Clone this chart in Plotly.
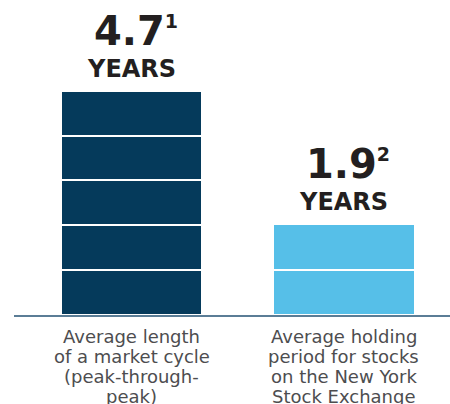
import plotly.graph_objects as go

# ---- data ----
categories = [
    "Average length of a market cycle (peak-through-peak)",
    "Average holding period for stocks on the New York Stock Exchange",
]
category_lines = [
    ["Average length", "of a market cycle", "(peak-through-", "peak)"],
    ["Average holding", "period for stocks", "on the New York", "Stock Exchange"],
]
values = [4.7, 1.9]
value_text = ["4.7", "1.9"]
footnotes = ["1", "2"]
unit_label = "YEARS"
# each bar is drawn as a stack of equal blocks
dark_blocks = [0.94, 0.94, 0.94, 0.94, 0.94]
light_blocks = [0.95, 0.95]
bar_colors = ["#053a5b", "#56bfe8"]

blocks = [dark_blocks, light_blocks]

fig = go.Figure()
for cat, segs, col in zip(categories, blocks, bar_colors):
    for s in segs:
        fig.add_trace(go.Bar(
            x=[cat], y=[s], width=0.664,
            marker=dict(color=col, line=dict(color="white", width=2.5)),
            showlegend=False, hoverinfo="skip",
        ))

num_font = "DejaVu Sans"
for cat, v, vt, fn in zip(categories, values, value_text, footnotes):
    fig.add_annotation(
        x=cat, y=v, showarrow=False, yanchor="bottom", yshift=35, xshift=4,
        text=f"<b>{vt}<sup><span style='font-size:19px'>{fn}</span></sup></b>",
        font=dict(family=num_font, size=40, color="#231f20"))
    fig.add_annotation(
        x=cat, y=v, showarrow=False, yanchor="bottom", yshift=6,
        text=f"<b>{unit_label}</b>",
        font=dict(family=num_font, size=24, color="#231f20"))

for cat, lines in zip(categories, category_lines):
    for i, ln in enumerate(lines):
        fig.add_annotation(
            x=cat, y=0, showarrow=False, yanchor="top", yshift=-9 - 20 * i,
            text=ln, font=dict(family="DejaVu Sans", size=18, color="#4d4d4f"))

fig.update_layout(
    width=450, height=404,
    margin=dict(l=14, r=0, t=0, b=89),
    barmode="stack",
    bargap=0,
    plot_bgcolor="white", paper_bgcolor="white",
    xaxis=dict(
        type="category",
        range=[-0.553, 1.499],
        showline=True, linecolor="#5b7d96", linewidth=2,
        showgrid=False, zeroline=False, ticks="", showticklabels=False,
    ),
    yaxis=dict(range=[0, 6.6], visible=False, showgrid=False, zeroline=False),
)

fig.write_html("out.html", config={"displayModeBar": False},
               post_script="document.body.style.margin='0';")
